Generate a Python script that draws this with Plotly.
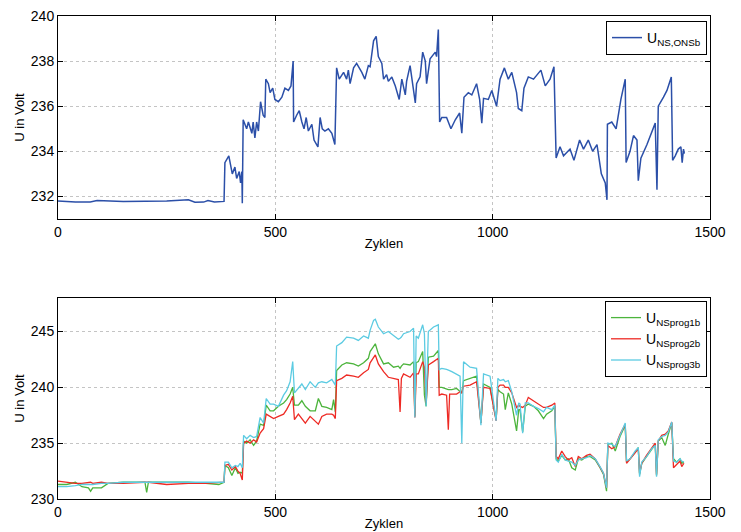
import plotly.graph_objects as go

# ---------------- top panel data ----------------
top_x = [0, 40, 74, 90, 150, 250, 300, 315, 335, 345, 360, 382,
         384, 393, 401, 407, 411, 417, 420, 423, 424, 426, 434, 438, 446, 449, 453, 457, 461,
         466, 472, 476, 478, 484, 488, 494, 499, 507, 515, 522, 530, 536, 541, 542, 549, 555,
         561, 566, 571, 576, 584, 589, 598, 603, 608, 614, 622, 630, 637, 641, 647, 657, 664,
         668, 672, 680, 687, 699, 706, 714, 718, 726, 732, 737, 745, 749, 756, 760, 768, 776,
         785, 791, 799, 802, 810, 822, 825, 833, 839, 845, 848, 856, 868, 871, 875, 878, 883,
         894, 904, 914, 924, 929, 934, 944, 952, 963, 970, 975, 979, 990, 998, 1009, 1017,
         1027, 1036, 1044, 1055, 1059, 1067, 1072, 1082, 1094, 1111, 1121, 1132, 1141, 1146,
         1155, 1163, 1178, 1187, 1200, 1209, 1220, 1230, 1240, 1250, 1259, 1263, 1264, 1274,
         1284, 1295, 1305, 1307, 1316, 1324, 1332, 1335, 1341, 1355, 1366, 1374, 1378, 1381,
         1393, 1401, 1411, 1414, 1420, 1427, 1433, 1436, 1439, 1441]
top_u = [231.8, 231.75, 231.75, 231.82, 231.78, 231.8, 231.85, 231.74, 231.75, 231.82, 231.75, 231.78,
         233.5, 233.8, 233.0, 233.3, 232.8, 233.1, 232.6, 233.1, 231.7, 235.4, 235.0, 235.3, 234.8, 235.3, 234.6, 235.3, 234.9,
         236.2, 235.6, 235.5, 237.2, 237.0, 236.6, 236.8, 236.3, 236.2, 236.4, 236.8, 236.7, 236.9, 238.0, 235.3, 235.6, 235.8,
         235.3, 235.0, 235.5, 234.9, 235.2, 234.5, 234.2, 235.5, 235.0, 234.9, 235.0, 234.8, 234.3, 237.7, 237.2, 237.5, 237.2,
         237.6, 237.0, 237.7, 237.9, 237.5, 237.2, 237.8, 237.75, 238.9, 239.1, 238.2, 237.9, 237.2, 237.4, 237.1, 237.3, 236.9,
         236.3, 237.2, 236.5, 237.1, 237.8, 236.15, 237.0, 237.3, 238.4, 238.0, 237.0, 238.1, 238.4, 238.2, 239.4, 235.3, 235.5,
         235.5, 235.0, 235.4, 235.7, 234.8, 236.4, 236.6, 236.5, 237.0, 236.3, 235.25, 236.35, 236.3, 236.7, 236.0, 237.2,
         237.7, 237.2, 237.5, 236.6, 235.9, 235.8, 236.8, 237.3, 237.2, 237.6, 236.9, 237.2, 237.75, 233.7,
         234.2, 233.8, 234.1, 233.6, 234.5, 234.1, 234.5, 234.0, 234.3, 233.0, 232.6, 231.85, 235.2, 235.3,
         235.0, 236.3, 237.2, 233.5, 234.0, 234.7, 234.5, 232.7, 233.7, 234.3, 234.9, 235.25, 232.3, 236.0,
         236.4, 236.7, 237.3, 233.6, 233.8, 234.1, 234.2, 233.5, 234.1, 233.9]

# ---------------- bottom panel data ----------------
bot_x = [0, 20, 40, 55, 70, 75, 80, 100, 115, 150, 200, 204, 208, 250, 300, 340, 370, 382,
         384, 392, 400, 408, 414, 419, 424, 427, 434, 442, 450, 457, 465, 473, 479, 488, 496,
         507, 519, 526, 534, 540, 544, 553, 561, 569, 580, 592, 599, 607, 618, 630, 634, 638,
         641, 653, 664, 680, 691, 703, 714, 718, 726, 730, 737, 749, 760, 772, 783, 787, 790,
         795, 810, 818, 821, 824, 829, 839, 843, 847, 852, 864, 875, 877, 883, 894, 898, 901,
         906, 917, 925, 929, 933, 948, 963, 973, 979, 994, 1008, 1012, 1017, 1025, 1029, 1036,
         1044, 1055, 1060, 1063, 1069, 1075, 1082, 1094, 1105, 1117, 1124, 1136, 1143, 1146,
         1151, 1159, 1167, 1174, 1182, 1190, 1197, 1205, 1216, 1224, 1236, 1247, 1255, 1262,
         1265, 1274, 1282, 1293, 1305, 1308, 1316, 1328, 1335, 1338, 1343, 1354, 1366, 1374,
         1377, 1381, 1389, 1397, 1404, 1412, 1416, 1423, 1431, 1435, 1440]
prog1 = [231.3, 231.3, 231.5, 231.1, 231.0, 230.7, 231.0, 231.0, 231.4, 231.5, 231.5, 230.6, 231.5, 231.5, 231.5, 231.4, 231.3, 231.5,
         233.0, 232.8, 232.1, 232.8, 232.3, 232.4, 232.3, 235.2, 235.0, 235.3, 234.8, 235.2, 236.7, 236.6, 238.4, 237.9, 237.9,
         238.3, 238.6, 238.9, 239.4, 240.0, 238.4, 238.4, 238.8, 238.3, 237.9, 237.9, 239.0, 238.3, 238.2, 238.0, 238.9, 237.8,
         241.5, 242.0, 242.2, 242.1, 241.9, 242.2, 242.6, 243.2, 243.6, 243.9, 243.0, 242.1, 242.2, 241.8, 241.9, 241.7, 241.9,
         242.1, 242.0, 242.3, 237.4, 242.2, 242.3, 243.2, 239.3, 238.3, 242.7, 242.8, 243.3, 240.0, 240.0, 239.8, 239.8, 239.8,
         239.8, 239.9, 239.6, 239.5, 240.6, 240.8, 241.0, 236.8, 240.3, 240.0, 237.1, 239.8, 239.6, 239.4, 238.0, 239.5,
         238.5, 236.1, 238.0, 238.0, 236.0, 238.3, 238.5, 238.3, 237.9, 237.2, 237.6, 237.9, 238.3, 233.6,
         233.4, 233.9, 233.5, 233.6, 232.8, 232.6, 233.6, 233.5, 233.8, 233.8, 233.5, 232.8, 232.2, 230.7,
         234.9, 235.0, 234.3, 235.6, 236.6, 233.3, 233.6, 234.2, 234.6, 232.2, 233.2, 233.8, 234.5, 234.9,
         232.1, 235.2, 235.5, 234.8, 235.8, 236.8, 233.6, 233.3, 233.6, 233.2, 233.3]
prog2 = [231.6, 231.5, 231.4, 231.4, 231.5, 231.5, 231.4, 231.5, 231.4, 231.4, 231.5, 231.5, 231.5, 231.3, 231.4, 231.4, 231.5, 231.5,
         233.0, 233.1, 232.6, 232.9, 232.5, 232.3, 231.7, 235.0, 235.2, 235.0, 235.3, 235.1, 235.9, 236.3, 237.6, 237.4, 237.2,
         237.4, 237.6, 238.0, 238.6, 239.2, 237.1, 237.6, 237.2, 236.8, 237.4, 237.0, 236.7, 237.4, 237.6, 237.6, 237.5, 237.2,
         240.6, 240.8, 241.1, 241.0, 240.9, 241.3, 241.6, 242.2, 242.6, 242.9, 242.1, 241.4, 240.9, 240.8, 240.7, 237.8, 240.8,
         241.2, 240.9, 241.3, 237.3, 241.2, 241.2, 242.3, 241.8, 238.6, 242.0, 242.3, 242.6, 239.3, 239.4, 239.3, 236.2, 239.4,
         239.4, 239.4, 239.6, 239.5, 240.1, 240.2, 240.5, 236.8, 240.0, 239.9, 237.0, 240.0, 240.2, 240.2, 240.0, 240.0,
         239.5, 238.2, 238.4, 238.3, 238.2, 238.4, 239.1, 238.8, 238.5, 238.2, 238.2, 238.4, 238.6, 233.8,
         233.6, 234.3, 233.8, 233.5, 233.7, 232.9, 233.8, 233.6, 233.9, 234.0, 233.6, 232.9, 232.3, 231.0,
         234.8, 234.5, 234.7, 235.8, 236.7, 233.2, 233.6, 234.2, 234.5, 232.3, 233.2, 233.9, 234.6, 235.0,
         232.2, 235.2, 235.7, 235.8, 236.1, 236.9, 232.8, 233.1, 233.4, 232.9, 233.2]
prog3 = [231.1, 231.1, 231.2, 231.3, 231.3, 231.3, 231.3, 231.4, 231.4, 231.5, 231.5, 231.5, 231.5, 231.5, 231.5, 231.5, 231.5, 231.5,
         233.3, 233.3, 232.8, 233.0, 232.9, 233.2, 232.8, 235.7, 235.4, 235.7, 235.5, 235.6, 237.3, 236.8, 239.0, 238.5, 238.5,
         238.3, 239.3, 239.7, 240.5, 242.3, 239.5, 239.9, 240.3, 239.8, 240.5, 240.0, 240.4, 240.5, 240.4, 240.7, 240.4, 240.2,
         243.7, 244.0, 244.5, 244.4, 244.2, 244.6, 244.4, 245.1, 246.0, 246.1, 245.4, 244.8, 245.0, 244.6, 244.3, 244.4, 244.5,
         244.8, 245.0, 245.3, 237.3, 244.6, 244.4, 245.6, 244.8, 238.3, 245.0, 245.4, 245.6, 241.6, 241.7, 241.6, 241.5, 241.5,
         241.4, 241.2, 241.0, 235.0, 242.3, 241.8, 241.7, 236.6, 241.2, 241.0, 237.0, 240.8, 240.6, 240.7, 240.5, 240.6,
         239.6, 237.5, 238.6, 238.5, 235.9, 238.6, 238.6, 238.3, 238.1, 237.8, 238.2, 238.0, 238.4, 233.5,
         233.3, 234.0, 233.5, 233.4, 233.3, 233.0, 233.5, 233.6, 233.7, 233.9, 233.6, 232.9, 232.3, 231.0,
         235.0, 234.9, 234.7, 235.7, 236.8, 233.4, 233.6, 234.3, 234.6, 232.0, 233.3, 233.8, 234.5, 234.8,
         232.0, 235.3, 235.6, 235.7, 236.0, 236.9, 233.4, 233.3, 233.6, 233.4, 233.3]

top_ticks_y = [232, 234, 236, 238, 240]
bot_ticks_y = [230, 235, 240, 245]
ticks_x = [0, 500, 1000, 1500]

FONT = "Liberation Sans, Arial, sans-serif"
# the page body has an 8 px default margin, so the figure starts at (8, 8)
OFF = 8
W, H = 741 - OFF, 532 - OFF
ML, MR, MT, MB = 58 - OFF, W - (710 - OFF), 16 - OFF, H - (499 - OFF)
PH = H - MT - MB  # plot-area height in px

fig = go.Figure()
fig.add_trace(go.Scatter(x=top_x, y=top_u, mode="lines",
                         line=dict(color="#2b4fa8", width=1.5),
                         name="U<sub>NS,ONSb</sub>", xaxis="x", yaxis="y", legend="legend"))
fig.add_trace(go.Scatter(x=bot_x, y=prog1, mode="lines",
                         line=dict(color="#4cb43c", width=1.3),
                         name="U<sub>NSprog1b</sub>", xaxis="x2", yaxis="y2", legend="legend2"))
fig.add_trace(go.Scatter(x=bot_x, y=prog2, mode="lines",
                         line=dict(color="#ee2a24", width=1.3),
                         name="U<sub>NSprog2b</sub>", xaxis="x2", yaxis="y2", legend="legend2"))
fig.add_trace(go.Scatter(x=bot_x, y=prog3, mode="lines",
                         line=dict(color="#5ccbe2", width=1.3),
                         name="U<sub>NSprog3b</sub>", xaxis="x2", yaxis="y2", legend="legend2"))

common_axis = dict(showline=True, linecolor="black", linewidth=1, mirror="ticks",
                   ticks="inside", ticklen=5, tickcolor="black", automargin=False,
                   ticklabeloverflow="allow",
                   showgrid=True, gridcolor="#c4c4c4", griddash="dot", gridwidth=1,
                   zeroline=False, tickfont=dict(family=FONT, size=14, color="black"))

top_dom = [(PH - 203) / PH, 1.0]
bot_dom = [0.0, (PH - 282) / PH]
PW = W - ML - MR

fig.update_layout(
    width=W, height=H,
    margin=dict(l=ML, r=MR, t=MT, b=MB, autoexpand=False),
    paper_bgcolor="white", plot_bgcolor="white",
    font=dict(family=FONT, color="black"),
    xaxis=dict(domain=[0, 1], anchor="y", range=[0, 1500], tickvals=ticks_x,
               title=dict(text="Zyklen", font=dict(family=FONT, size=13), standoff=0),
               **common_axis),
    yaxis=dict(domain=top_dom, anchor="x", range=[231, 240],
               tickvals=top_ticks_y,
               title=dict(text="U in Volt", font=dict(family=FONT, size=13), standoff=3),
               **common_axis),
    xaxis2=dict(domain=[0, 1], anchor="y2", range=[0, 1500], tickvals=ticks_x,
                title=dict(text="Zyklen", font=dict(family=FONT, size=13), standoff=0),
                **common_axis),
    yaxis2=dict(domain=bot_dom, anchor="x2", range=[230, 248],
                tickvals=bot_ticks_y,
                title=dict(text="U in Volt", font=dict(family=FONT, size=13), standoff=3),
                **common_axis),
    legend=dict(x=1 - 3 / PW, y=1 - 5 / PH, xanchor="right", yanchor="top",
                bgcolor="white", bordercolor="black", borderwidth=1,
                font=dict(family=FONT, size=14, color="black"),
                tracegroupgap=0, itemwidth=30),
    legend2=dict(x=1 - 3 / PW, y=(PH - 285) / PH, xanchor="right", yanchor="top",
                 bgcolor="white", bordercolor="black", borderwidth=1,
                 font=dict(family=FONT, size=14, color="black"),
                 tracegroupgap=0, itemwidth=30),
    showlegend=True,
)

fig.write_html("out.html")
